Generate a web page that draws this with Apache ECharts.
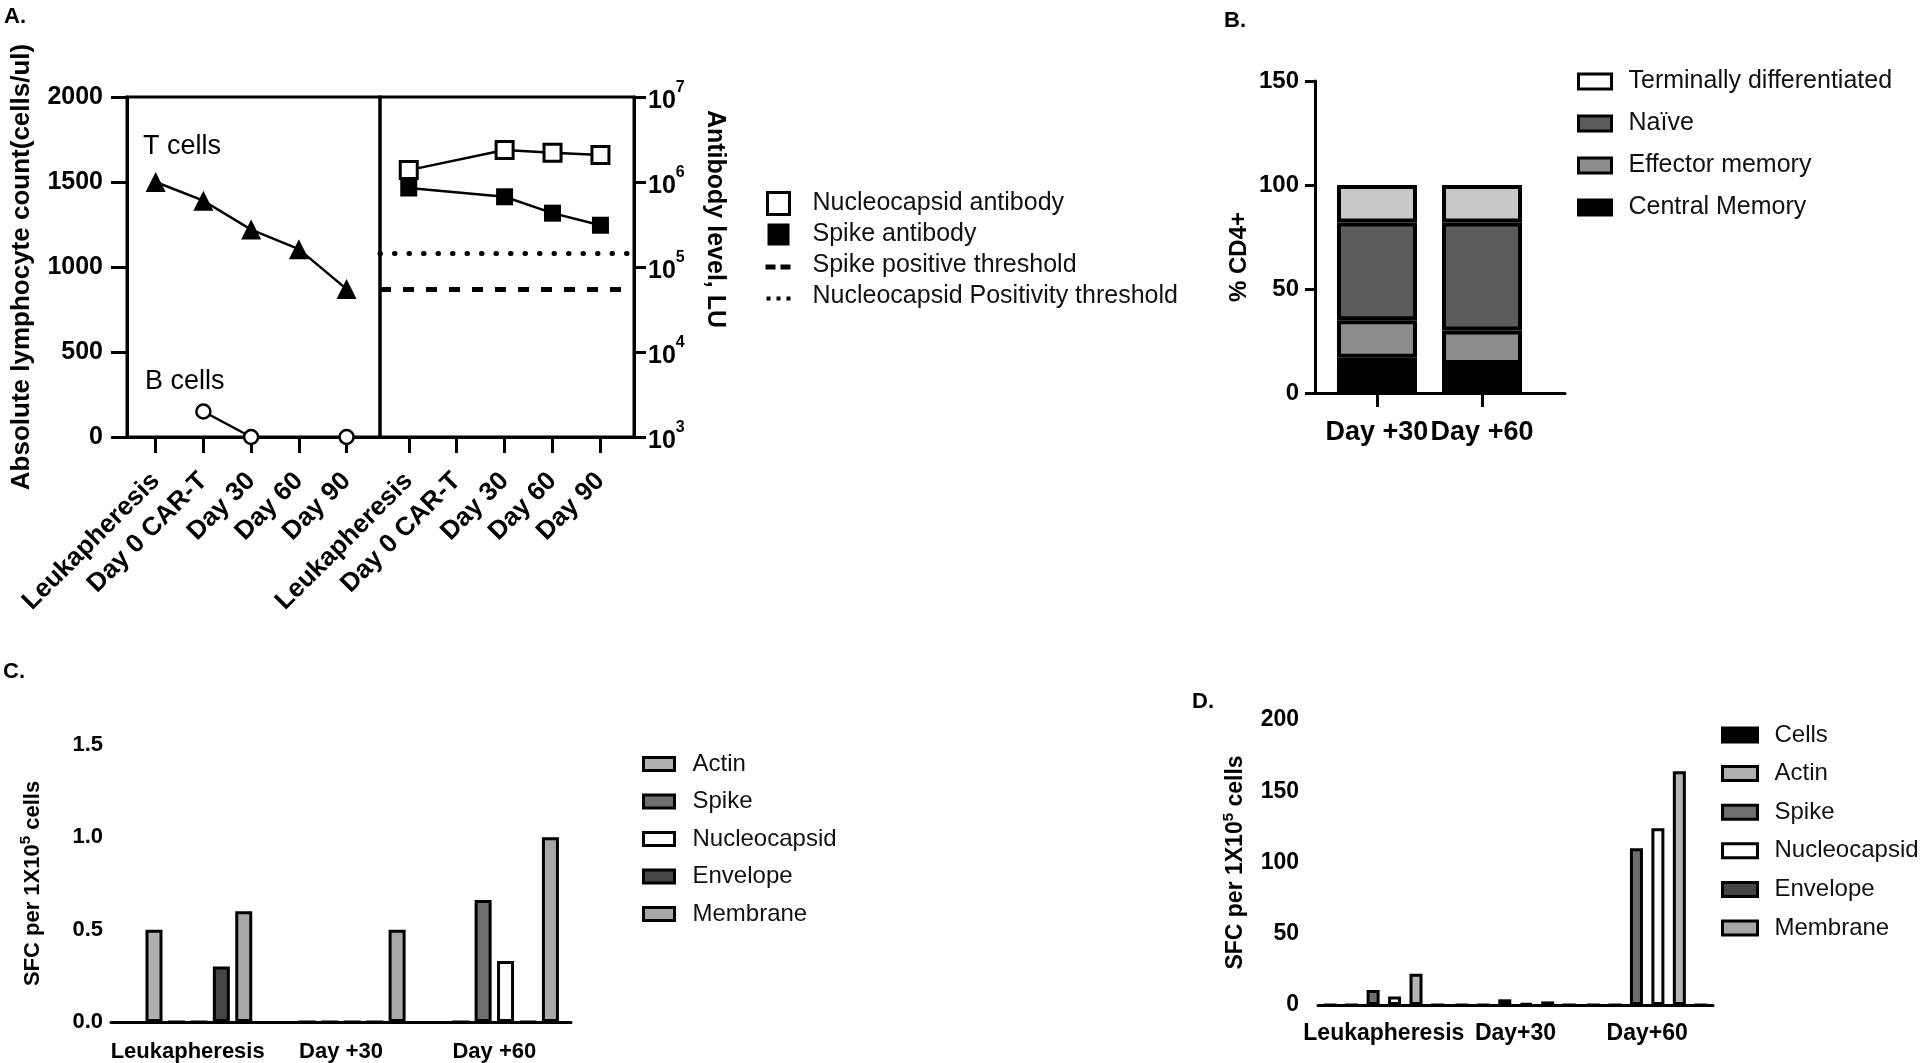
<!DOCTYPE html>
<html><head><meta charset="utf-8">
<script src="https://cdn.jsdelivr.net/npm/echarts@6/dist/echarts.min.js"></script>
<style>html,body{margin:0;padding:0;background:#fff}#chart{width:1920px;height:1063px}</style>
</head><body><div id="chart"></div>
<script>
// ---------- Panel A ----------
const timepointsA = ['Leukapheresis', 'Day 0 CAR-T', 'Day 30', 'Day 60', 'Day 90'];
const tCells = [1500, 1390, 1220, 1105, 870];
const bCells = [null, 150, 0, null, 0];
const nucleocapsidAntibody = [1.38e6, null, 2.38e6, 2.21e6, 2.08e6];
const spikeAntibody = [8.5e5, null, 6.7e5, 4.3e5, 3.1e5];
const spikePositiveThreshold = 5.5e4;
const nucleocapsidPositivityThreshold = 1.44e5;

// ---------- Panel B ----------
const timepointsB = ['Day +30', 'Day +60'];
const centralMemory = [17, 14];
const effectorMemory = [18, 16];
const naive = [47, 52];
const terminallyDifferentiated = [18, 18];

// ---------- Panel C ----------
const timepointsC = ['Leukapheresis', 'Day +30', 'Day +60'];
const cCells = [null, null, null];
const cActin = [0.5, 0, 0];
const cSpike = [0, 0, 0.66];
const cNucleocapsid = [0, 0, 0.33];
const cEnvelope = [0.3, 0, 0];
const cMembrane = [0.6, 0.5, 1.0];

// ---------- Panel D ----------
const timepointsD = ['Leukapheresis', 'Day+30', 'Day+60'];
const dCells = [0, 0, 0];
const dActin = [0, 0, 0];
const dSpike = [10.5, 4, 110];
const dNucleocapsid = [6, 1, 124];
const dEnvelope = [22, 2.5, 164];
const dMembrane = [0, 0, 0];

const FONT = "'Liberation Sans', Arial, Helvetica, sans-serif";
const BLACK = '#000';
const axisLine = { onZero: false, lineStyle: { color: BLACK, width: 3 } };
const tickStyle = { color: BLACK, width: 3 };
const idxA = timepointsA.map((_, i) => i);
const idxB = timepointsB.map((_, i) => i);
const pairs = arr => arr.map((v, i) => [i, v == null ? '-' : v]);

const colorsC = {
  Cells: '#000000', Actin: '#b0b0b0', Spike: '#6e6e6e',
  Nucleocapsid: '#ffffff', Envelope: '#454545', Membrane: '#a8a8a8'
};
const colorsD = Object.assign({}, colorsC, { Envelope: '#b4b4b4' });

function groupBars(list, xi, yi, barWidth, barGap, colors) {
  return list.map(([name, data]) => ({
    type: 'bar', name, xAxisIndex: xi, yAxisIndex: yi, data,
    barWidth, barGap,
    itemStyle: { color: colors[name], borderColor: BLACK, borderWidth: 3 }
  }));
}

// stacked CD4 subsets: value column first so the stack is applied to the y values
const bSeries = [
  ['Central Memory', centralMemory, '#000000'],
  ['Effector memory', effectorMemory, '#8c8c8c'],
  ['Naïve', naive, '#5c5c5c'],
  ['Terminally differentiated', terminallyDifferentiated, '#c8c8c8']
].map(([name, vals, color]) => ({
  type: 'bar', name, xAxisIndex: 2, yAxisIndex: 2, stack: 'cd4', barWidth: 80,
  data: vals.map((v, i) => [v, i]),
  encode: { x: 1, y: 0 },
  itemStyle: { color, borderColor: BLACK, borderWidth: 4 }
}));

const squareIcon = 'path://M0,0M26,22M2,0h22v22h-22z';
const dashIcon = 'path://M0,0M26,22M0,10h10v5h-10zM15,10h10v5h-10z';
const dotIcon = 'path://M0,0M26,22M1,11h4v4h-4zM11,11h4v4h-4zM21,11h4v4h-4z';

const supRich = { s: { fontSize: 15, fontWeight: 'bold', fontFamily: FONT, verticalAlign: 'top', lineHeight: 15 } };
const plain = v => String(v);

const option = {
  animation: false,
  backgroundColor: '#fff',
  textStyle: { fontFamily: FONT, color: BLACK },
  grid: [
    { left: 127, top: 97, width: 253, height: 340, show: true, borderColor: BLACK, borderWidth: 3, backgroundColor: 'transparent' },
    { left: 380, top: 97, width: 254, height: 340, show: true, borderColor: BLACK, borderWidth: 3, backgroundColor: 'transparent' },
    { left: 1315, top: 81, width: 250, height: 312 },
    { left: 111, top: 745, width: 460, height: 277 },
    { left: 1318, top: 720, width: 395, height: 285 }
  ],
  xAxis: [
    { gridIndex: 0, type: 'value', min: -0.6, max: 4.7, splitLine: { show: false }, axisLine,
      axisTick: { customValues: idxA, length: 16, lineStyle: tickStyle },
      axisLabel: { customValues: idxA, formatter: v => timepointsA[Math.round(v)], rotate: 45, margin: 40,
        fontSize: 26, fontWeight: 'bold', color: BLACK } },
    { gridIndex: 1, type: 'value', min: -0.6, max: 4.7, splitLine: { show: false }, axisLine,
      axisTick: { customValues: idxA, length: 16, lineStyle: tickStyle },
      axisLabel: { customValues: idxA, formatter: v => timepointsA[Math.round(v)], rotate: 45, margin: 40,
        fontSize: 26, fontWeight: 'bold', color: BLACK } },
    { gridIndex: 2, type: 'value', min: -0.59, max: 1.79, splitLine: { show: false }, axisLine,
      axisTick: { customValues: idxB, length: 14, lineStyle: tickStyle },
      axisLabel: { customValues: idxB, formatter: v => timepointsB[Math.round(v)], margin: 26,
        fontSize: 27, fontWeight: 'bold', color: BLACK } },
    { gridIndex: 3, type: 'category', data: timepointsC, axisLine,
      axisTick: { alignWithLabel: true, length: 12, lineStyle: tickStyle },
      axisLabel: { interval: 0, margin: 19, fontSize: 22, fontWeight: 'bold', color: BLACK } },
    { gridIndex: 4, type: 'category', data: timepointsD, axisLine,
      axisTick: { alignWithLabel: true, length: 14, lineStyle: tickStyle },
      axisLabel: { interval: 0, margin: 17, fontSize: 23, fontWeight: 'bold', color: BLACK } }
  ],
  yAxis: [
    { gridIndex: 0, type: 'value', min: 0, max: 2000, interval: 500, splitLine: { show: false }, axisLine,
      axisTick: { length: 16, lineStyle: tickStyle },
      axisLabel: { margin: 24, fontSize: 25, fontWeight: 'bold', color: BLACK, formatter: plain },
      name: 'Absolute lymphocyte count(cells/ul)', nameLocation: 'middle', nameGap: 92,
      nameTextStyle: { fontSize: 26, fontWeight: 'bold', color: BLACK } },
    { gridIndex: 1, type: 'log', logBase: 10, min: 1e3, max: 1e7, position: 'right', splitLine: { show: false }, axisLine,
      axisTick: { length: 12, lineStyle: tickStyle },
      axisLabel: { margin: 14, color: BLACK,
        formatter: v => '{b|10}{s|' + Math.round(Math.log10(v)) + '}',
        rich: { b: { fontSize: 25, fontWeight: 'bold', fontFamily: FONT, lineHeight: 34, verticalAlign: 'bottom' },
                s: { fontSize: 16, fontWeight: 'bold', fontFamily: FONT, verticalAlign: 'top' } } },
      name: 'Antibody level, LU', nameLocation: 'middle', nameRotate: -90, nameGap: 68,
      nameTextStyle: { fontSize: 25, fontWeight: 'bold', color: BLACK, padding: [0, 96, 0, 0] } },
    { gridIndex: 2, type: 'value', min: 0, max: 150, interval: 50, splitLine: { show: false }, axisLine,
      axisTick: { length: 10, lineStyle: tickStyle },
      axisLabel: { margin: 16, fontSize: 24, fontWeight: 'bold', color: BLACK },
      name: '% CD4+', nameLocation: 'middle', nameGap: 64,
      nameTextStyle: { fontSize: 24, fontWeight: 'bold', color: BLACK, padding: [0, 40, 0, 0] } },
    { gridIndex: 3, type: 'value', min: 0, max: 1.5, interval: 0.5, offset: -9, splitLine: { show: false }, axisLine,
      axisTick: { length: 12, lineStyle: tickStyle },
      axisLabel: { margin: 17, fontSize: 22, fontWeight: 'bold', color: BLACK, formatter: v => v.toFixed(1) },
      name: 'SFC per 1X10{s|5} cells', nameLocation: 'middle', nameGap: 72,
      nameTextStyle: { fontSize: 22, fontWeight: 'bold', color: BLACK, lineHeight: 30, rich: supRich } },
    { gridIndex: 4, type: 'value', min: 0, max: 200, interval: 50, offset: -1, splitLine: { show: false }, axisLine,
      axisTick: { length: 14, lineStyle: tickStyle },
      axisLabel: { margin: 20, fontSize: 23, fontWeight: 'bold', color: BLACK },
      name: 'SFC per 1X10{s|5} cells', nameLocation: 'middle', nameGap: 68,
      nameTextStyle: { fontSize: 23, fontWeight: 'bold', color: BLACK, lineHeight: 30, rich: supRich } }
  ],
  legend: [
    { orient: 'vertical', left: 759, top: 186, itemWidth: 26, itemHeight: 22, itemGap: 6, selectedMode: false,
      textStyle: { fontSize: 25, lineHeight: 25, color: '#111', fontFamily: FONT, padding: [0, 0, 0, 16] },
      data: [
        { name: 'Nucleocapsid antibody', icon: squareIcon, itemStyle: { color: '#fff', borderColor: BLACK, borderWidth: 3 } },
        { name: 'Spike antibody', icon: squareIcon, itemStyle: { color: BLACK, borderWidth: 0 } },
        { name: 'Spike positive threshold', icon: dashIcon, itemStyle: { color: BLACK, borderWidth: 0 } },
        { name: 'Nucleocapsid Positivity threshold', icon: dotIcon, itemStyle: { color: BLACK, borderWidth: 0 } }
      ] },
    { orient: 'vertical', left: 1572, top: 64, itemWidth: 33, itemHeight: 15, itemGap: 17, icon: 'rect', selectedMode: false,
      itemStyle: { borderColor: BLACK, borderWidth: 3 },
      textStyle: { fontSize: 25, lineHeight: 25, color: '#111', fontFamily: FONT, padding: [0, 0, 0, 12] },
      data: [{ name: 'Terminally differentiated', itemStyle: { color: '#fff' } }, 'Naïve', 'Effector memory', 'Central Memory'] },
    { orient: 'vertical', left: 637, top: 747, itemWidth: 31, itemHeight: 13, itemGap: 13.5, icon: 'rect', selectedMode: false,
      itemStyle: { borderColor: BLACK, borderWidth: 3 },
      textStyle: { fontSize: 24, lineHeight: 24, color: '#111', fontFamily: FONT, padding: [0, 0, 0, 13] },
      data: ['Actin', 'Spike', 'Nucleocapsid', 'Envelope', 'Membrane'] },
    { orient: 'vertical', left: 1716, top: 718, itemWidth: 35, itemHeight: 14, itemGap: 14.6, icon: 'rect', selectedMode: false,
      itemStyle: { borderColor: BLACK, borderWidth: 3 },
      textStyle: { fontSize: 24, lineHeight: 24, color: '#111', fontFamily: FONT, padding: [0, 0, 0, 12] },
      data: ['Cells', 'Actin', 'Spike', 'Nucleocapsid', { name: 'Envelope', itemStyle: { color: colorsC.Envelope } }, 'Membrane'] }
  ],
  graphic: [
    { type: 'text', x: 4, y: 6, style: { text: 'A.', fontSize: 22, fontWeight: 'bold', fontFamily: FONT, fill: BLACK, verticalAlign: 'top' } },
    { type: 'text', x: 1224, y: 10, style: { text: 'B.', fontSize: 22, fontWeight: 'bold', fontFamily: FONT, fill: BLACK, verticalAlign: 'top' } },
    { type: 'text', x: 3, y: 661, style: { text: 'C.', fontSize: 22, fontWeight: 'bold', fontFamily: FONT, fill: BLACK, verticalAlign: 'top' } },
    { type: 'text', x: 1192, y: 691, style: { text: 'D.', fontSize: 22, fontWeight: 'bold', fontFamily: FONT, fill: BLACK, verticalAlign: 'top' } },
    { type: 'text', x: 143, y: 147, style: { text: 'T cells', fontSize: 27, fontFamily: FONT, fill: BLACK, verticalAlign: 'middle' } },
    { type: 'text', x: 145, y: 382, style: { text: 'B cells', fontSize: 27, fontFamily: FONT, fill: BLACK, verticalAlign: 'middle' } }
  ],
  series: [
    { type: 'line', name: 'T cells', xAxisIndex: 0, yAxisIndex: 0, data: pairs(tCells),
      symbol: 'triangle', symbolSize: 20, lineStyle: { color: BLACK, width: 2.5 }, itemStyle: { color: BLACK } },
    { type: 'line', name: 'B cells', xAxisIndex: 0, yAxisIndex: 0, data: pairs(bCells), connectNulls: false,
      symbol: 'circle', symbolSize: 14, lineStyle: { color: BLACK, width: 2.5 },
      itemStyle: { color: '#fff', borderColor: BLACK, borderWidth: 2.5 } },
    { type: 'line', name: 'Nucleocapsid antibody', xAxisIndex: 1, yAxisIndex: 1, data: pairs(nucleocapsidAntibody), connectNulls: true,
      symbol: 'rect', symbolSize: 17, lineStyle: { color: BLACK, width: 2.5 },
      itemStyle: { color: '#fff', borderColor: BLACK, borderWidth: 3 } },
    { type: 'line', name: 'Spike antibody', xAxisIndex: 1, yAxisIndex: 1, data: pairs(spikeAntibody), connectNulls: true,
      symbol: 'rect', symbolSize: 17, lineStyle: { color: BLACK, width: 2.5 }, itemStyle: { color: BLACK } },
    { type: 'line', name: 'Spike positive threshold', xAxisIndex: 1, yAxisIndex: 1, data: [], itemStyle: { color: BLACK },
      markLine: { silent: true, symbol: ['none', 'none'], label: { show: false },
        lineStyle: { color: BLACK, width: 5, type: [11, 12] }, data: [{ yAxis: spikePositiveThreshold }] } },
    { type: 'line', name: 'Nucleocapsid Positivity threshold', xAxisIndex: 1, yAxisIndex: 1, data: [], itemStyle: { color: BLACK },
      markLine: { silent: true, symbol: ['none', 'none'], label: { show: false },
        lineStyle: { color: BLACK, width: 5, type: [0.5, 14], cap: 'round' }, data: [{ yAxis: nucleocapsidPositivityThreshold }] } },
    ...bSeries,
    ...groupBars([['Cells', cCells], ['Actin', cActin], ['Spike', cSpike], ['Nucleocapsid', cNucleocapsid],
      ['Envelope', cEnvelope], ['Membrane', cMembrane]], 3, 3, 17, '32%', colorsC),
    ...groupBars([['Cells', dCells], ['Actin', dActin], ['Spike', dSpike], ['Nucleocapsid', dNucleocapsid],
      ['Envelope', dEnvelope], ['Membrane', dMembrane]], 4, 4, 13, '65%', colorsD)
  ]
};

const chart = echarts.init(document.getElementById('chart'), null, { renderer: 'canvas' });
chart.setOption(option);
</script>
</body></html>
